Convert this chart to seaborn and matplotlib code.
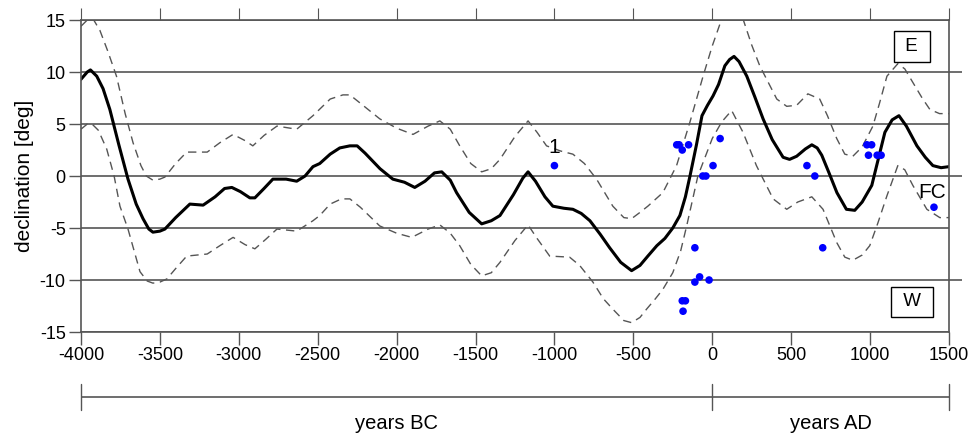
import numpy as np
import pandas as pd
import seaborn as sns
import matplotlib.pyplot as plt

# mean declination curve
mean_year = [-4000, -3960, -3940, -3900, -3860, -3817, -3760, -3702, -3650, -3607,
             -3570, -3544, -3500, -3468, -3400, -3310, -3226, -3150, -3090, -3044,
             -2990, -2930, -2898, -2840, -2784, -2700, -2633, -2580, -2530, -2487,
             -2421, -2360, -2296, -2250, -2200, -2105, -2024, -1950, -1885, -1820,
             -1760, -1714, -1660, -1620, -1540, -1461, -1400, -1345, -1260, -1200,
             -1167, -1120, -1060, -1010, -940, -883, -830, -775, -710, -650,
             -580, -511, -458, -408, -351, -300, -250, -205, -170, -141,
             -100, -65, -30, 5, 40, 80, 110, 138, 170, 219,
             270, 322, 380, 449, 490, 535, 590, 631, 665, 694,
             740, 790, 850, 903, 950, 1011, 1050, 1094, 1140, 1183,
             1230, 1297, 1350, 1398, 1450, 1500]
mean_decl = [9.3, 10.0, 10.2, 9.6, 8.4, 6.4, 3.0, -0.3, -2.7, -4.1,
             -5.1, -5.4, -5.3, -5.1, -4.0, -2.7, -2.8, -2.0, -1.2, -1.1,
             -1.5, -2.1, -2.1, -1.2, -0.3, -0.3, -0.5, 0.0, 0.9, 1.2,
             2.1, 2.7, 2.9, 2.9, 2.2, 0.7, -0.3, -0.6, -1.1, -0.5,
             0.3, 0.4, -0.4, -1.6, -3.5, -4.6, -4.3, -3.8, -1.8, -0.2,
             0.4, -0.5, -2.0, -2.9, -3.1, -3.2, -3.6, -4.3, -5.6, -6.9,
             -8.3, -9.1, -8.6, -7.7, -6.7, -6.0, -5.0, -3.8, -2.0, 0.0,
             3.0, 5.8, 6.8, 7.7, 8.8, 10.6, 11.2, 11.5, 11.0, 9.6,
             7.6, 5.5, 3.5, 1.8, 1.6, 1.9, 2.6, 3.0, 2.7, 2.0,
             0.3, -1.6, -3.2, -3.3, -2.5, -0.9, 1.5, 4.2, 5.4, 5.8,
             4.8, 2.9, 1.8, 1.0, 0.8, 0.9]

# upper confidence limit
upper_year = [-4000, -3960, -3923, -3880, -3830, -3775, -3720, -3670, -3620, -3586,
              -3544, -3500, -3468, -3400, -3330, -3200, -3120, -3036, -2960, -2911,
              -2840, -2758, -2633, -2530, -2421, -2340, -2296, -2230, -2107, -2000,
              -1896, -1800, -1726, -1660, -1600, -1530, -1461, -1400, -1345, -1250,
              -1167, -1110, -1050, -960, -883, -810, -733, -630, -560, -511,
              -458, -408, -313, -226, -141, -58, 0, 60, 125, 195,
              250, 301, 409, 472, 535, 606, 681, 730, 789, 840,
              891, 950, 1018, 1060, 1107, 1176, 1220, 1271, 1330, 1379,
              1440, 1500]
upper_decl = [14.4, 15.0, 15.1, 14.0, 12.0, 9.6, 6.0, 3.2, 1.0, 0.0,
              -0.4, -0.3, -0.1, 1.2, 2.3, 2.3, 3.2, 4.0, 3.4, 2.9,
              3.9, 4.8, 4.5, 5.8, 7.4, 7.8, 7.8, 7.0, 5.5, 4.6,
              4.0, 4.8, 5.3, 4.5, 2.9, 1.2, 0.4, 0.7, 1.6, 3.8,
              5.3, 4.2, 2.9, 2.4, 2.1, 1.2, -0.3, -2.9, -4.0, -4.1,
              -3.5, -2.9, -1.6, 1.0, 5.2, 9.6, 12.5, 15.1, 16.0, 15.1,
              12.6, 10.6, 7.4, 6.7, 6.8, 7.9, 7.4, 5.8, 3.6, 2.1,
              1.9, 2.8, 4.8, 7.0, 9.6, 10.8, 10.3, 9.0, 7.5, 6.4,
              6.0, 6.0]

# lower confidence limit
lower_year = [-4000, -3960, -3930, -3890, -3837, -3790, -3753, -3702, -3626, -3580,
              -3544, -3500, -3456, -3400, -3330, -3200, -3120, -3036, -2960, -2898,
              -2830, -2758, -2633, -2530, -2487, -2421, -2350, -2296, -2230, -2107,
              -2000, -1904, -1800, -1726, -1660, -1600, -1530, -1461, -1400, -1345,
              -1250, -1167, -1110, -1030, -904, -840, -756, -690, -630, -560,
              -511, -458, -416, -360, -313, -250, -200, -162, -91, 0,
              60, 123, 195, 280, 386, 472, 542, 631, 702, 789,
              840, 891, 950, 998, 1050, 1107, 1176, 1220, 1271, 1360,
              1442, 1500]
lower_decl = [4.5, 5.0, 5.0, 4.4, 2.6, 0.0, -2.9, -5.1, -9.2, -10.1,
              -10.3, -10.2, -9.9, -8.9, -7.7, -7.5, -6.7, -5.9, -6.6, -7.0,
              -6.1, -5.1, -5.3, -4.3, -3.8, -2.7, -2.2, -2.2, -3.0, -4.8,
              -5.5, -5.9, -5.1, -4.7, -5.5, -6.7, -8.5, -9.6, -9.3, -8.3,
              -6.2, -4.7, -6.0, -7.7, -7.8, -8.6, -10.2, -11.8, -12.8, -13.9,
              -14.1, -13.6, -12.8, -11.8, -10.9, -9.3, -7.2, -4.8, 0.0, 3.6,
              5.2, 6.3, 4.2, 1.0, -2.2, -3.2, -2.5, -2.0, -3.2, -6.4,
              -7.8, -8.1, -7.6, -6.7, -4.5, -1.9, 1.0, 0.6, -0.9, -3.2,
              -4.0, -4.0]

# individual measurements
pt_year = [-1000, -225, -210, -190, -150, 50, 5, -60, -40, -110,
           -110, -80, -20, -190, -170, -185, 600, 650, 700, 980,
           1010, 990, 1045, 1070, 1405]
pt_decl = [1.0, 3.0, 3.0, 2.5, 3.0, 3.6, 1.0, 0.0, 0.0, -6.9,
           -10.2, -9.7, -10.0, -12.0, -12.0, -13.0, 1.0, 0.0, -6.9, 3.0,
           3.0, 2.0, 2.0, 2.0, -3.0]

xticks = list(range(-4000, 1501, 500))
yticks = [-15, -10, -5, 0, 5, 10, 15]

sns.set_style("white")
plt.rcParams['font.family'] = ['Liberation Sans', 'DejaVu Sans']
plt.rcParams['text.color'] = 'black'
plt.rcParams['axes.labelcolor'] = 'black'

gray = '#555555'
fig = plt.figure(figsize=(9.72, 4.34), dpi=100)
ax = fig.add_axes([0.0833, 0.2350, 0.893, 0.7189])

for y in yticks:
    ax.axhline(y, color=gray, lw=1.2, zorder=0)

sns.lineplot(x=upper_year, y=upper_decl, ax=ax, color=gray, lw=1.0,
             sort=False, estimator=None)
ax.lines[-1].set_dashes((6, 4))
sns.lineplot(x=lower_year, y=lower_decl, ax=ax, color=gray, lw=1.0,
             sort=False, estimator=None)
ax.lines[-1].set_dashes((6, 4))
sns.lineplot(x=mean_year, y=mean_decl, ax=ax, color='black', lw=2.2,
             sort=False, estimator=None)
sns.scatterplot(x=pt_year, y=pt_decl, ax=ax, color='blue', s=30,
                edgecolor='none', zorder=5)

ax.set_xlim(-4000, 1500)
ax.set_ylim(-15, 15)
ax.set_xticks(xticks)
ax.set_yticks(yticks)
ax.set_xticklabels([str(t) for t in xticks])
ax.set_yticklabels([str(t) for t in yticks])
ax.tick_params(axis='both', direction='out', length=9, width=1.0, color=gray,
               labelsize=13, labelcolor='black', pad=2, left=True, bottom=True)
ax.set_ylabel('declination [deg]', fontsize=15, labelpad=4)
ax.set_xlabel('')
for s in ax.spines.values():
    s.set_color(gray)
    s.set_linewidth(1.2)

top = ax.secondary_xaxis('top')
top.set_xticks(xticks)
top.set_xticklabels([])
top.tick_params(direction='out', length=9, color=gray)
top.spines['top'].set_visible(False)

right = ax.twinx()
right.set_ylim(-15, 15)
right.set_yticks([-10, 0, 10])
right.set_yticklabels([])
right.tick_params(direction='out', length=9, width=1.2, color=gray, right=True)
right.grid(False)
for s in right.spines.values():
    s.set_visible(False)

ax.text(-1000, 1.8, '1', fontsize=15, ha='center', va='bottom')
ax.text(1392, -1.6, 'FC', fontsize=15, ha='center', va='center')
box = dict(boxstyle='square,pad=0.35', fc='white', ec='black', lw=1.0)
ax.text(1265, 12.45, ' E ', fontsize=13.5, ha='center', va='center', bbox=box)
ax.text(1265, -12.1, ' W ', fontsize=13.5, ha='center', va='center', bbox=box)

# era bar below the axis
era = fig.add_axes([0.0833, 0.0553, 0.893, 0.0599])
era.set_xlim(-4000, 1500)
era.set_ylim(0, 1)
era.axis('off')
era.axhline(0.5, color=gray, lw=1.2)
for xv in [-4000, 0, 1500]:
    era.axvline(xv, color=gray, lw=1.0, clip_on=False)
era.text(-2000, -0.15, 'years BC', fontsize=14.5, ha='center', va='top')
era.text(750, -0.15, 'years AD', fontsize=14.5, ha='center', va='top')

fig.savefig('out.png', dpi=100)
